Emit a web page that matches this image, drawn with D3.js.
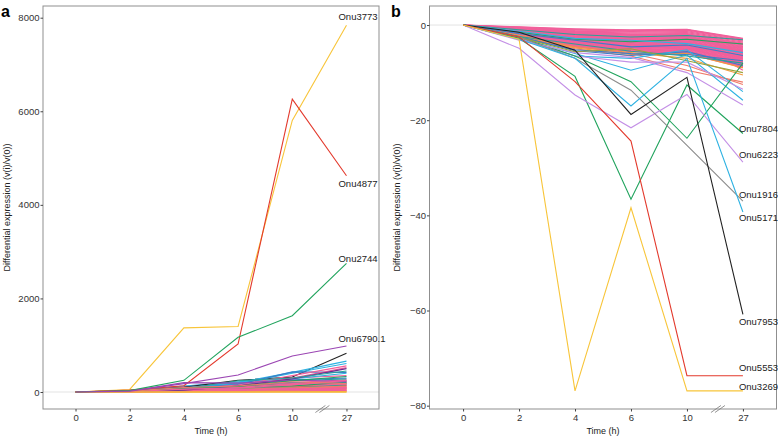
<!DOCTYPE html>
<html><head><meta charset="utf-8">
<script src="https://cdn.jsdelivr.net/npm/d3@7"></script>
<style>
body{margin:0;background:#fff;}
svg text{font-family:"Liberation Sans",Arial,sans-serif;}
</style></head>
<body><svg id="c" width="778" height="438"></svg>
<script>
// ---------- DATA ----------
const timeLabels = ["0","2","4","6","10","27"];
const yTicksA = [0,2000,4000,6000,8000];
const yTicksB = [-80,-60,-40,-20,0];

// Panel a: highlighted series
const namesA = ["Onu3773","Onu4877","Onu2744","Onu6790.1"];
const labeledA = [
  [0,55,1370,1400,5806,7840],
  [0,40,135,1026,6261,4622],
  [0,30,250,1169,1631,2750],
  [0,20,180,363,769,983]
];
const colorsLabeledA = ["yellow","red","green","purple"];

// Panel a: background series
const otherA = [
  [0,5,10,15,20,30],[0,8,20,30,45,60],[0,10,30,45,60,80],[0,12,35,55,80,100],
  [0,14,40,65,95,120],[0,16,45,75,110,140],[0,18,50,85,125,160],[0,20,55,95,140,180],
  [0,22,60,105,155,200],[0,24,65,115,170,220],[0,26,70,125,185,240],[0,28,80,140,200,260],
  [0,6,15,25,40,50],[0,9,25,50,70,90],[0,11,40,60,100,110],[0,15,30,80,90,150],
  [0,20,70,90,160,170],[0,25,50,110,130,210],[0,30,90,150,210,190],[0,12,60,100,180,230],
  [0,3,5,8,10,15],[0,2,4,6,8,5],[0,4,12,20,25,35],[0,7,22,40,55,70],
  [0,7,18,35,50,75],[0,10,28,40,65,95],[0,13,38,58,88,125],[0,9,33,52,75,45],
  [0,35,100,160,240,280],[0,28,110,190,260,300],[0,30,120,200,300,350],[0,25,130,220,280,400],
  [0,15,100,250,320,830],[0,20,90,200,420,660],[0,18,70,180,400,610],[0,15,80,160,430,420],
  [0,12,60,150,350,560],[0,10,50,120,300,520],[0,10,40,130,280,500],[0,10,70,240,300,450],
  [0,20,200,190,250,230],[0,14,80,120,240,330],[0,10,60,90,150,250],[0,1,2,2,3,3],
  [0,0,0,0,0,0],[0,18,95,130,220,180]
];
const colorsOtherA = [
  "pink","salmon","pink","orange","pink","red","pink","olive",
  "pink","salmon","green","pink","orange","pink","salmon","teal",
  "pink","green","blue","pink","salmon","yellow","pink","orange",
  "pink","pink","salmon","pink",
  "teal","blue","pink","cyan","black","cyan","cyan","blue",
  "pink","pink","darkpurple","teal","purple","green","pink","orange",
  "yellow","salmon"
];

// Panel b: highlighted series
const namesB = ["Onu7804","Onu6223","Onu1916","Onu5171","Onu7953","Onu5553","Onu3269"];
const labeledB = [
  [0,-2.8,-10.8,-36.6,-12.6,-22.8],
  [0,-4.9,-14.7,-21.6,-14.6,-28.8],
  [0,-2.5,-7.0,-13.7,-25.3,-37.0],
  [0,-3.0,-7.0,-17.0,-7.0,-39.3],
  [0,-1.5,-5.3,-18.8,-11.0,-60.8],
  [0,-2.5,-11.9,-24.4,-73.7,-73.7],
  [0,-3.0,-76.9,-38.4,-76.9,-76.9]
];
const colorsLabeledB = ["green","lavender","grey","cyan","black","red","yellow"];

// Panel b: background series (pink mass first, other colours drawn over it)
const otherB = [
  [0,-0.4,-0.8,-1.0,-0.9,-2.8],[0,-0.45,-0.9,-1.1,-1.0,-2.9],
  [0,-0.5,-1.0,-1.2,-1.0,-3.0],[0,-0.55,-1.15,-1.35,-1.2,-3.2],[0,-0.6,-1.3,-1.5,-1.4,-3.4],
  [0,-0.7,-1.4,-1.7,-1.6,-3.6],[0,-0.8,-1.5,-1.9,-1.8,-3.8],[0,-0.85,-1.6,-2.0,-1.9,-3.95],
  [0,-0.9,-1.7,-2.1,-2.0,-4.1],[0,-0.95,-1.8,-2.2,-2.15,-4.25],[0,-1.0,-1.9,-2.3,-2.3,-4.4],
  [0,-1.05,-1.95,-2.45,-2.4,-4.55],[0,-1.1,-2.0,-2.6,-2.5,-4.7],[0,-1.15,-2.1,-2.7,-2.65,-4.85],
  [0,-1.2,-2.2,-2.8,-2.8,-5.0],[0,-1.25,-2.3,-2.9,-2.9,-5.15],[0,-1.3,-2.4,-3.0,-3.0,-5.3],
  [0,-1.35,-2.5,-3.1,-3.15,-5.45],[0,-1.4,-2.6,-3.2,-3.3,-5.6],[0,-1.45,-2.65,-3.3,-3.4,-5.75],
  [0,-1.5,-2.7,-3.4,-3.5,-5.9],[0,-1.55,-2.8,-3.5,-3.65,-6.05],[0,-1.6,-2.9,-3.6,-3.8,-6.2],
  [0,-1.65,-3.0,-3.75,-3.9,-6.35],[0,-1.7,-3.1,-3.9,-4.0,-6.5],[0,-1.75,-3.2,-4.0,-4.15,-6.65],
  [0,-1.8,-3.3,-4.1,-4.3,-6.8],[0,-1.85,-3.4,-4.2,-4.4,-6.95],[0,-1.9,-3.5,-4.3,-4.5,-7.1],
  [0,-1.95,-3.55,-4.4,-4.65,-7.25],[0,-2.0,-3.6,-4.5,-4.8,-7.4],[0,-2.05,-3.7,-4.6,-4.9,-7.55],
  [0,-2.1,-3.8,-4.7,-5.0,-7.7],[0,-2.15,-3.9,-4.85,-5.15,-7.85],[0,-2.2,-4.0,-5.0,-5.3,-8.0],
  [0,-2.25,-4.1,-5.1,-5.4,-8.15],[0,-2.3,-4.2,-5.2,-5.5,-8.3],[0,-2.35,-4.3,-5.3,-5.65,-8.45],
  [0,-2.4,-4.4,-5.4,-5.8,-8.6],[0,-2.45,-4.5,-5.5,-5.9,-8.75],[0,-2.5,-4.6,-5.6,-6.0,-8.9],
  [0,-0.7,-2.5,-3.8,-2.2,-6.0],[0,-1.2,-1.5,-2.0,-3.6,-7.5],[0,-1.6,-2.0,-4.5,-3.0,-4.0],
  [0,-0.9,-3.0,-2.5,-4.2,-5.2],[0,-2.0,-2.8,-3.3,-2.6,-9.5],[0,-1.4,-3.9,-4.8,-4.0,-6.6],
  [0,-1.0,-2.3,-3.5,-5.2,-4.6],[0,-2.2,-3.4,-2.9,-3.8,-7.0],[0,-0.8,-1.8,-4.0,-4.6,-8.2],
  [0,-1.8,-4.3,-3.8,-2.4,-5.5],
  [0,-1.0,-2.0,-2.5,-2.2,-3.1],[0,-1.5,-3.0,-3.5,-3.0,-4.0],[0,-2.5,-4.8,-6.2,-6.0,-9.0],
  [0,-2.2,-4.6,-5.8,-7.0,-10.5],[0,-2.0,-4.5,-6.0,-8.5,-12.5],[0,-2.5,-5.0,-6.5,-9.5,-12.0],
  [0,-2.6,-5.2,-6.0,-6.2,-7.5],[0,-2.4,-5.4,-6.4,-5.6,-8.5],[0,-2.8,-6.0,-9.5,-6.3,-15.8],
  [0,-3.0,-6.5,-7.0,-5.2,-14.0],[0,-2.7,-6.5,-7.8,-7.8,-13.5],[0,-2.4,-4.0,-5.5,-6.5,-8.0],
  [0,-2.5,-6.5,-11.9,-23.8,-8.0],[0,-3.2,-5.8,-6.8,-10.0,-16.8],[0,-2.6,-5.6,-5.0,-7.5,-10.0],
  [0,-1.8,-3.2,-4.6,-4.2,-6.4],[0,-1.3,-2.8,-3.2,-3.9,-5.8]
];
const colorsOtherB = [
  "pink","pink","pink","pink","pink","pink","pink","pink","pink","pink",
  "pink","pink","pink","pink","pink","pink","pink","pink","pink","pink",
  "pink","pink","pink","pink","pink","pink","pink","pink","pink","pink",
  "pink","pink","pink","pink","pink","pink","pink","pink","pink","pink",
  "pink","pink","pink","pink","pink","pink","pink","pink","pink","pink",
  "pink",
  "teal","green","orange","orange","salmon","salmon","blue","blue","cyan","cyan",
  "lavender","teal","green","lavender","olive","blue","cyan"
];

// ---------- STYLE ----------
const palette = {
  yellow:"#F8C53A", red:"#E33A2D", green:"#22A45E", purple:"#9B46B3",
  pink:"#F1609B", salmon:"#F07A6A", orange:"#F29B3E", olive:"#9AA23A",
  teal:"#2AA198", blue:"#3A7FC8", cyan:"#2FB2E2", black:"#222222",
  darkpurple:"#6A2F8F", lavender:"#C490E6", grey:"#8C8C8C"
};

const svg = d3.select("#c");
const fontSize = 9.5;

function panel(opts){
  const {left,right,top,bottom,yDomain,yTicks,labeled,labColors,names,other,othColors,nudge,labDx,letter,letterX,titleX,clipId} = opts;
  const x = d3.scaleLinear().domain([-0.6, 5.6]).range([left,right]);
  const y = d3.scaleLinear().domain(yDomain).range([bottom,top]);
  const g = svg.append("g");
  g.append("clipPath").attr("id",clipId).append("rect")
    .attr("x",left).attr("y",top).attr("width",right-left).attr("height",bottom-top);
  g.append("line").attr("x1",left).attr("x2",right).attr("y1",y(0)).attr("y2",y(0))
    .attr("stroke","#e3e3e3").attr("stroke-width",1);
  const line = d3.line().x((d,i)=>x(i)).y(d=>y(d));
  const lg = g.append("g").attr("clip-path",`url(#${clipId})`).attr("fill","none");
  lg.selectAll("path.o").data(other).join("path").attr("class","o")
    .attr("d",line).attr("stroke",(d,i)=>palette[othColors[i]])
    .attr("stroke-width",(d,i)=>othColors[i]==="pink"?1.2:1.1);
  lg.selectAll("path.l").data(labeled).join("path").attr("class","l")
    .attr("d",line).attr("stroke",(d,i)=>palette[labColors[i]]).attr("stroke-width",1.1);
  g.append("rect").attr("x",left).attr("y",top).attr("width",right-left).attr("height",bottom-top)
    .attr("fill","none").attr("stroke","#8f8f8f").attr("stroke-width",1);
  const ya = d3.axisLeft(y).tickValues(yTicks).tickSize(2.5).tickFormat(d3.format("d"));
  const yg = g.append("g").attr("transform",`translate(${left},0)`).call(ya);
  const xa = d3.axisBottom(x).tickValues(d3.range(timeLabels.length)).tickSize(2.5).tickFormat(i=>timeLabels[i]);
  const xg = g.append("g").attr("transform",`translate(0,${bottom})`).call(xa);
  [yg,xg].forEach(a=>{
    a.select(".domain").remove();
    a.selectAll(".tick line").attr("stroke","#444");
    a.selectAll(".tick text").attr("fill","#333").style("font-size",fontSize+"px").style("font-family","Liberation Sans, Arial, sans-serif");
  });
  yg.selectAll(".tick text").attr("x",-3.5);
  xg.selectAll(".tick text").attr("y",5);
  const bx = (x(4)+x(5))/2 + 3;
  [-2,2].forEach(o=>{
    g.append("line").attr("x1",bx+o-5).attr("y1",bottom+3.5).attr("x2",bx+o+5).attr("y2",bottom-3.5)
      .attr("stroke","#777").attr("stroke-width",0.8);
  });
  g.selectAll("text.lab").data(labeled).join("text").attr("class","lab")
    .attr("x",x(5)+labDx).attr("y",(d,i)=>y(d[5])+nudge[i]).attr("dy","0.35em")
    .attr("fill","#222").style("font-size",fontSize+"px").text((d,i)=>names[i]);
  g.append("text").attr("x",(left+right)/2).attr("y",434).attr("text-anchor","middle")
    .attr("fill","#222").style("font-size","9px").text("Time (h)");
  g.append("text").attr("transform",`translate(${titleX},${(top+bottom)/2}) rotate(-90)`)
    .attr("text-anchor","middle").attr("fill","#222").style("font-size","9px")
    .text("Differential expression (v(i)/v(0))");
  g.append("text").attr("x",letterX).attr("y",17).attr("fill","#000")
    .style("font-size","16px").style("font-weight","bold").text(letter);
}

panel({left:43,right:379,top:6,bottom:409,yDomain:[-363,8250],yTicks:yTicksA,
  labeled:labeledA,labColors:colorsLabeledA,names:namesA,other:otherA,othColors:colorsOtherA,
  nudge:[-9,7.5,-5,-7],labDx:-8,letter:"a",letterX:1,titleX:10,clipId:"clipA"});
panel({left:429.5,right:776.5,top:6,bottom:409,yDomain:[-80.7,4.0],yTicks:yTicksB,
  labeled:labeledB,labColors:colorsLabeledB,names:namesB,other:otherB,othColors:colorsOtherB,
  nudge:[-5,-7,-6,6,7,-8,-4],labDx:-4,letter:"b",letterX:391,titleX:400,clipId:"clipB"});
</script></body></html>
